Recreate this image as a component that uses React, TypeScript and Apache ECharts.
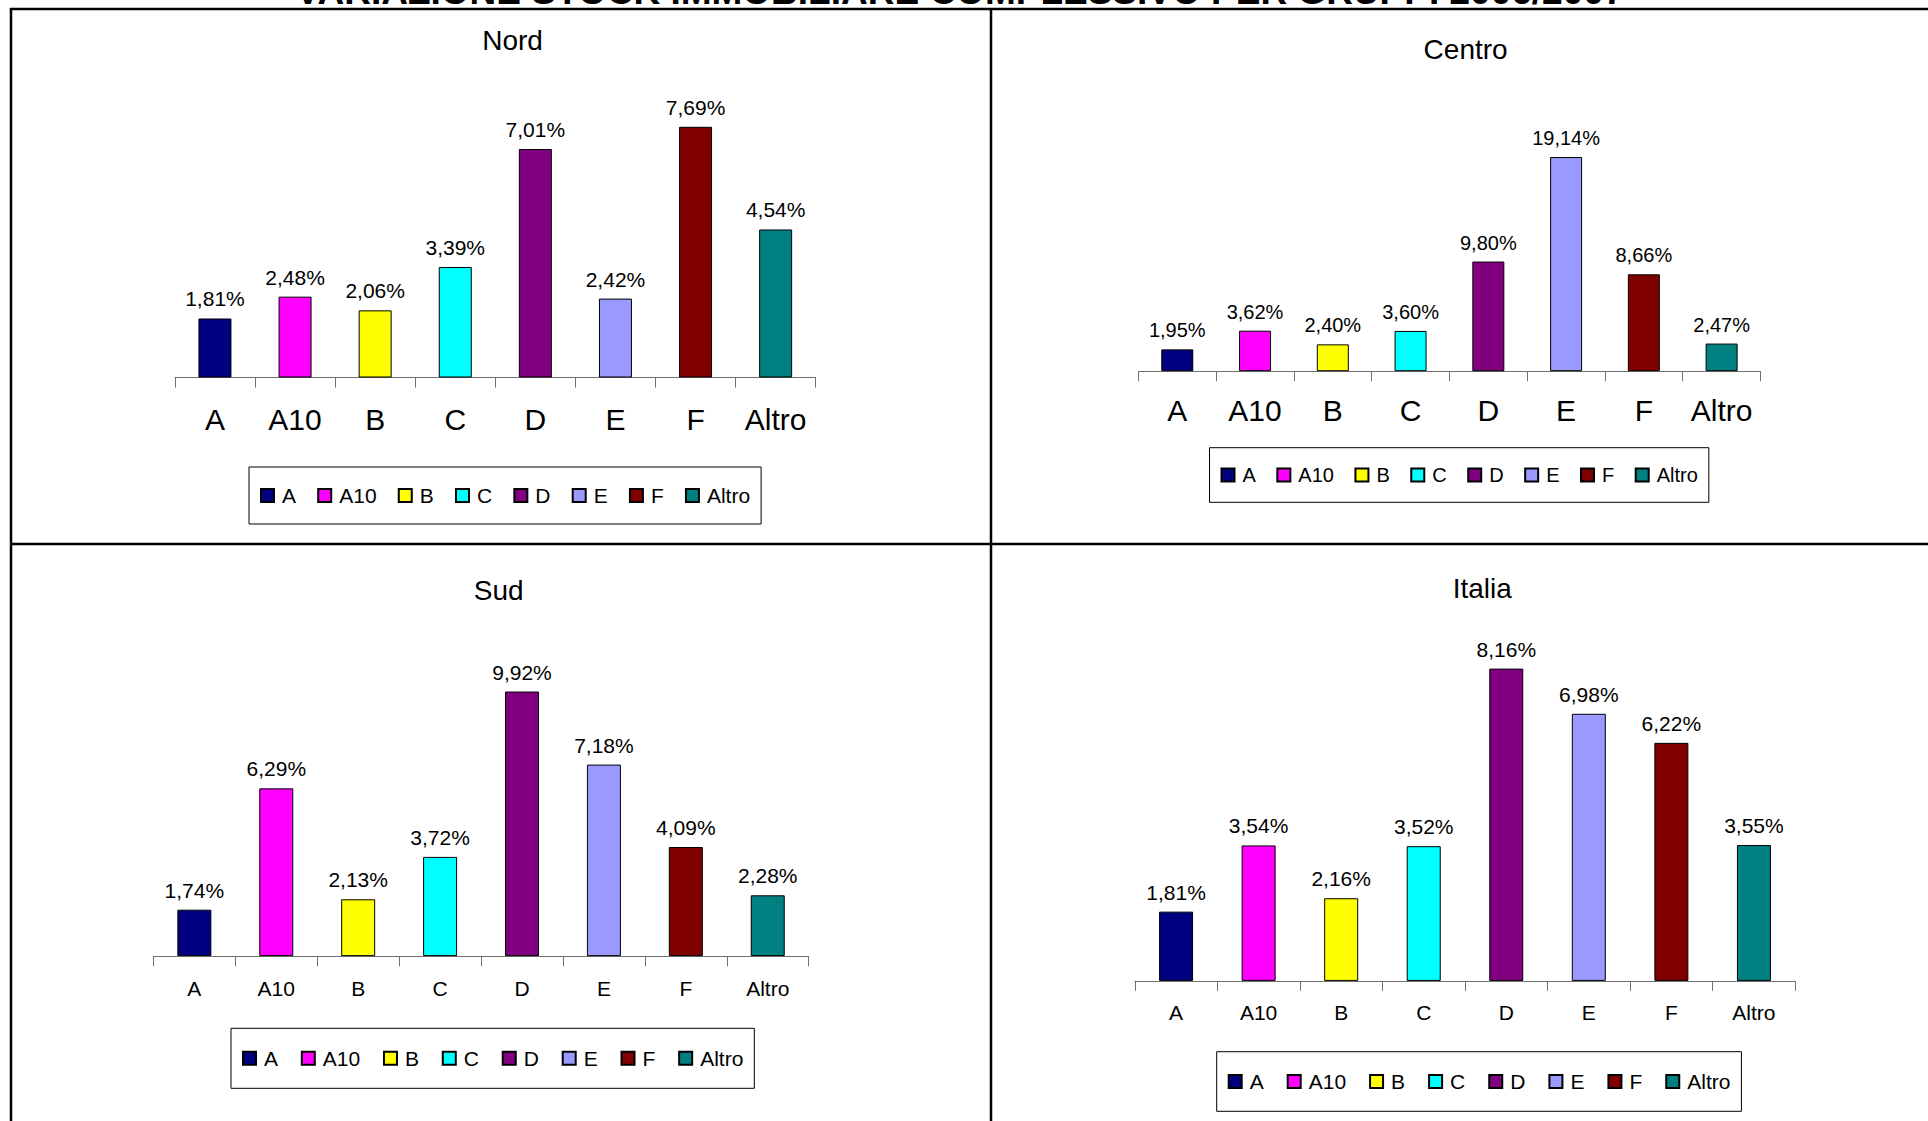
import React, { useEffect, useRef } from "react";
import * as echarts from "echarts";

const mainTitle = "VARIAZIONE STOCK IMMOBILIARE COMPLESSIVO PER GRUPPI 2006/2007";
const categories = ["A", "A10", "B", "C", "D", "E", "F", "Altro"];
const barColors = ["#000080", "#FF00FF", "#FFFF00", "#00FFFF", "#800080", "#9999FF", "#800000", "#008080"];
const panelTitles = ["Nord", "Centro", "Sud", "Italia"];
const nordValues = [1.81, 2.48, 2.06, 3.39, 7.01, 2.42, 7.69, 4.54];
const centroValues = [1.95, 3.62, 2.4, 3.6, 9.8, 19.14, 8.66, 2.47];
const sudValues = [1.74, 6.29, 2.13, 3.72, 9.92, 7.18, 4.09, 2.28];
const italiaValues = [1.81, 3.54, 2.16, 3.52, 8.16, 6.98, 6.22, 3.55];
const panelValues = [nordValues, centroValues, sudValues, italiaValues];
const panelMax = [9, 20, 10, 9];

const FONT = "'Liberation Sans', Arial, Helvetica, sans-serif";

// layout (pixels)
const layouts = [
  { left: 174.9, width: 640.8, axisY: 377.5, px: 32.6, barW: 33, catFont: 30, catMargin: 27, valFont: 21, tx: 512.6, ty: 40,
    lg: { left: 249, top: 467, vpad: 18, gap: 21.2, font: 21 } },
  { left: 1138.4, width: 622.1, axisY: 371.2, px: 11.19, barW: 32, catFont: 30, catMargin: 24, valFont: 20, tx: 1465.6, ty: 49.4,
    lg: { left: 1209.5, top: 447.7, vpad: 17.3, gap: 20.5, font: 20 } },
  { left: 153.4, width: 655.3, axisY: 956.1, px: 26.67, barW: 34, catFont: 21, catMargin: 21.7, valFont: 21, tx: 498.7, ty: 590,
    lg: { left: 231, top: 1028.3, vpad: 19.5, gap: 22.8, font: 21 } },
  { left: 1134.8, width: 660.4, axisY: 980.9, px: 38.27, barW: 34, catFont: 21, catMargin: 21.4, valFont: 21, tx: 1482.3, ty: 588.9,
    lg: { left: 1216.7, top: 1051.7, vpad: 19.3, gap: 23, font: 21 } },
];

function fmt(v: number) {
  return v.toFixed(2).replace(".", ",") + "%";
}

export default function App() {
  const ref = useRef<HTMLDivElement>(null);
  useEffect(() => {
    if (!ref.current) return;
    const chart = echarts.init(ref.current, undefined, { renderer: "svg" });

    const grids: any[] = [];
    const xAxes: any[] = [];
    const yAxes: any[] = [];
    const series: any[] = [];
    const titles: any[] = [];
    const legends: any[] = [];

    layouts.forEach((L, i) => {
      const max = panelMax[i];
      const h = max * L.px;
      grids.push({ left: L.left, top: L.axisY - h, width: L.width, height: h, containLabel: false });
      xAxes.push({
        type: "category",
        gridIndex: i,
        data: categories,
        boundaryGap: true,
        axisLine: { show: true, lineStyle: { color: "#707070", width: 1 } },
        axisTick: { show: true, length: 10, lineStyle: { color: "#707070", width: 1 } },
        axisLabel: { color: "#000", fontSize: L.catFont, fontFamily: FONT, margin: L.catMargin, lineHeight: L.catFont, interval: 0 },
        splitLine: { show: false },
      });
      yAxes.push({ type: "value", gridIndex: i, min: 0, max, show: false, splitLine: { show: false } });
      titles.push({
        text: panelTitles[i],
        left: L.tx,
        top: L.ty - 14,
        textAlign: "center",
        padding: 0,
        textStyle: { fontSize: 28, fontWeight: "normal", color: "#000", fontFamily: FONT, lineHeight: 28 },
      });
      legends.push({
        data: categories,
        orient: "horizontal",
        left: L.lg.left,
        top: L.lg.top,
        padding: [L.lg.vpad, 11, L.lg.vpad, 11],
        itemGap: L.lg.gap,
        itemWidth: 13,
        itemHeight: 13,
        icon: "rect",
        borderColor: "#000",
        borderWidth: 1,
        backgroundColor: "#fff",
        selectedMode: false,
        textStyle: { color: "#000", fontSize: L.lg.font, fontFamily: FONT, padding: [0, 0, 0, 3] },
      });
      const vals = panelValues[i];
      categories.forEach((c, j) => {
        series.push({
          type: "bar",
          name: c,
          xAxisIndex: i,
          yAxisIndex: i,
          stack: "panel" + i,
          barWidth: L.barW,
          data: categories.map((_, k) => (k === j ? vals[j] : "-")),
          itemStyle: { color: barColors[j], borderColor: "#000", borderWidth: 1 },
          label: {
            show: true,
            position: "top",
            distance: 9,
            color: "#000",
            fontSize: L.valFont,
            fontFamily: FONT,
            formatter: (p: any) => (typeof p.value === "number" ? fmt(p.value) : ""),
          },
        });
      });
    });

    const graphic: any[] = [
      { type: "text", x: 960, y: -8.8, style: { text: mainTitle, font: "bold 37px " + FONT, fill: "#000", textAlign: "center", textVerticalAlign: "middle" } },
      { type: "line", shape: { x1: 10, y1: 9, x2: 1928, y2: 9 }, style: { stroke: "#000", lineWidth: 2.5 } },
      { type: "line", shape: { x1: 11, y1: 8, x2: 11, y2: 1121 }, style: { stroke: "#000", lineWidth: 2.5 } },
      { type: "line", shape: { x1: 991, y1: 8, x2: 991, y2: 1121 }, style: { stroke: "#000", lineWidth: 2.5 } },
      { type: "line", shape: { x1: 10, y1: 544, x2: 1928, y2: 544 }, style: { stroke: "#000", lineWidth: 2.5 } },
    ];

    chart.setOption({
      animation: false,
      backgroundColor: "#fff",
      title: titles,
      grid: grids,
      xAxis: xAxes,
      yAxis: yAxes,
      legend: legends,
      series,
      graphic,
    });
    return () => chart.dispose();
  }, []);
  return <div ref={ref} style={{ position: "absolute", left: 0, top: 0, width: 1928, height: 1121 }} />;
}
